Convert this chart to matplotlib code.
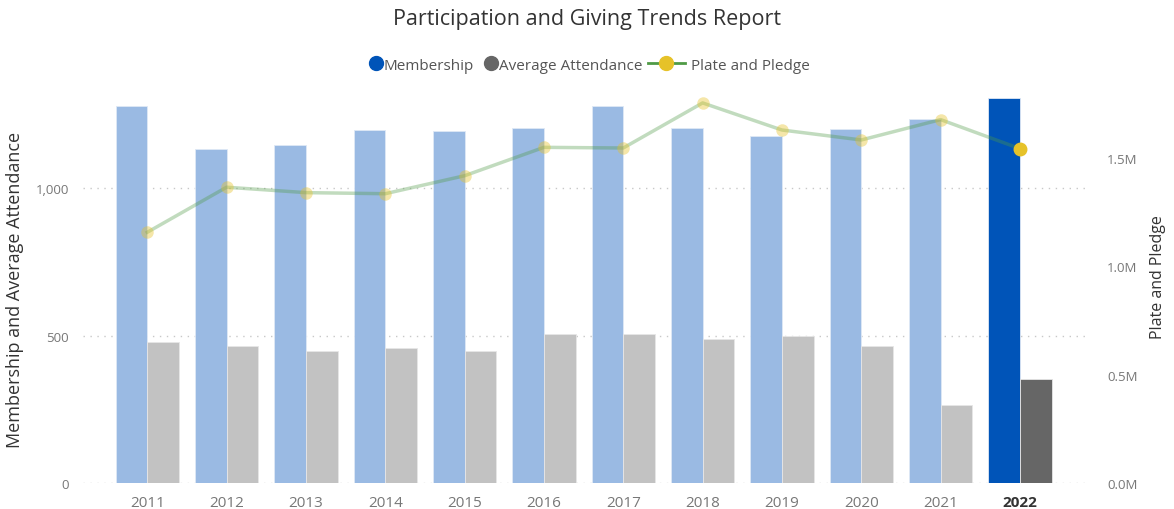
import numpy as np
import matplotlib
matplotlib.use("Agg")
import matplotlib.pyplot as plt
from matplotlib.lines import Line2D
from matplotlib.ticker import FuncFormatter

plt.rcParams['font.family'] = ['Open Sans', 'DejaVu Sans']

years = ["2011", "2012", "2013", "2014", "2015", "2016",
         "2017", "2018", "2019", "2020", "2021", "2022"]
membership = [1279, 1133, 1147, 1199, 1194, 1206, 1279, 1205, 1178, 1201, 1235, 1308]
attendance = [478, 464, 449, 459, 448, 505, 506, 488, 499, 465, 265, 353]
plate_pledge = [1.157, 1.365, 1.340, 1.335, 1.418, 1.549,
                1.546, 1.754, 1.629, 1.583, 1.677, 1.543]  # millions
highlight = "2022"

blue_dark, blue_light = "#0054b8", "#9abae3"
grey_dark, grey_light = "#666666", "#c2c2c2"
green, yellow = "#4f9a45", "#e6c229"

fig = plt.figure(figsize=(11.74, 5.10), dpi=100)
ax = fig.add_axes([83 / 1174, 26 / 510, (1085 - 83) / 1174, (484 - 92) / 510])
ax2 = ax.twinx()

x = np.arange(len(years))
w = 0.40
hl = [y == highlight for y in years]
mcol = [blue_dark if h else blue_light for h in hl]
acol = [grey_dark if h else grey_light for h in hl]

ax.bar(x - w / 2, membership, w, color=mcol, edgecolor="#dfe8f5", linewidth=0.6, zorder=2)
ax.bar(x + w / 2, attendance, w, color=acol, edgecolor="#e6e6e6", linewidth=0.6, zorder=2)

ax.set_xlim(-0.81, 11.82)
ax.set_ylim(0, 1331)
ax.set_yticks([0, 500, 1000])
ax.yaxis.set_major_formatter(FuncFormatter(lambda v, p: f"{int(v):,}"))
ax.grid(axis="y", color="#c8c8c8", linestyle=(0, (1, 4)), linewidth=1.0, zorder=0)
ax.set_axisbelow(True)

ax2.plot(x, plate_pledge, color=green, alpha=0.35, linewidth=2.5, zorder=3)
for i, v in enumerate(plate_pledge):
    if hl[i]:
        ax2.plot(x[i], v, "o", color=yellow, markersize=9, zorder=5)
    else:
        ax2.plot(x[i], v, "o", color=yellow, alpha=0.4, markersize=9,
                 markeredgewidth=0, zorder=4)
ax2.set_ylim(0, 1.809)
ax2.set_yticks([0, 0.5, 1.0, 1.5])
ax2.yaxis.set_major_formatter(FuncFormatter(lambda v, p: f"{v:.1f}M"))

for a in (ax, ax2):
    for s in a.spines.values():
        s.set_visible(False)
    a.tick_params(length=0, labelsize=9.5, labelcolor="#777777")

ax.tick_params(axis="y", pad=10)
ax2.tick_params(axis="y", pad=16)
ax.set_xticks(x)
ax.set_xticklabels(years, fontsize=11)
ax.tick_params(axis="x", pad=9)
for lbl, h in zip(ax.get_xticklabels(), hl):
    if h:
        lbl.set_fontweight("bold")
        lbl.set_color("#333333")

ax.set_ylabel("Membership and Average Attendance", fontsize=13, color="#333333")
ax.yaxis.set_label_coords(-0.059, 0.495)
ax2.set_ylabel("Plate and Pledge", fontsize=11.5, color="#333333")
ax2.yaxis.set_label_coords(1.065, 0.528)

fig.text(0.5, 1 - 19 / 510, "Participation and Giving Trends Report",
         ha="center", va="center", fontsize=15.5, color="#333333")

circle_handles = [
    Line2D([], [], marker="o", linestyle="none", color=blue_dark, markersize=10),
    Line2D([], [], marker="o", linestyle="none", color=grey_dark, markersize=10),
]
line_handle = [Line2D([], [], marker="o", color=green, markerfacecolor=yellow,
                      markeredgecolor=yellow, markersize=10, linewidth=2)]
leg1 = fig.legend(circle_handles, ["Membership", "Average Attendance"],
                  loc="center right", bbox_to_anchor=(642 / 1174, 1 - 66 / 510), ncol=2,
                  frameon=False, fontsize=11, labelcolor="#555555", handletextpad=0.0,
                  columnspacing=0.6, handlelength=1.0, borderpad=0, borderaxespad=0)
leg2 = fig.legend(line_handle, ["Plate and Pledge"],
                  loc="center left", bbox_to_anchor=(648 / 1174, 1 - 66 / 510),
                  frameon=False, fontsize=11, labelcolor="#555555", handletextpad=0.4,
                  handlelength=2.4, borderpad=0, borderaxespad=0)

fig.savefig("out.png", dpi=100)
